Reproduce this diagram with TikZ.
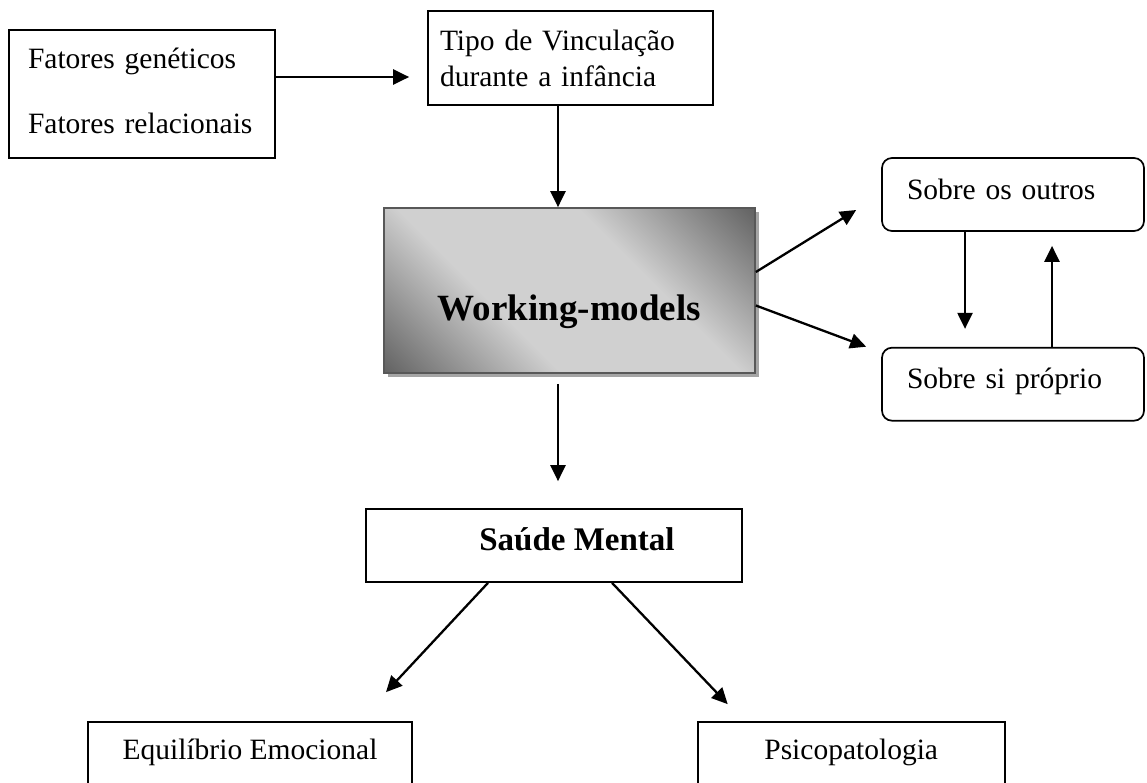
\documentclass[tikz,border=0pt]{standalone}
\usepackage{fontspec}
\setmainfont{Liberation Serif}
\usepackage{tikz}
\usetikzlibrary{positioning,arrows.meta,shadows}
\definecolor{model_dark}{RGB}{100,100,100}
\definecolor{model_light}{RGB}{208,208,208}
\definecolor{model_edge}{RGB}{88,88,88}
\definecolor{model_shadow}{RGB}{165,165,165}
\pgfdeclarehorizontalshading{model_shade}{100bp}{color(0bp)=(model_dark); color(15bp)=(model_dark); color(38bp)=(model_light); color(62bp)=(model_light); color(85bp)=(model_dark); color(100bp)=(model_dark)}
\tikzstyle{plain_box}=[rectangle, draw=black, line width=1.7pt, inner sep=0pt, font=\fontsize{29.5}{36}\selectfont]
\tikzstyle{round_box}=[plain_box, rounded corners=10pt, align=left, text width=212pt, inner xsep=25pt, minimum height=73pt, text height=18pt, text depth=9pt]
\tikzstyle{open_box}=[plain_box, text height=22pt, text depth=50pt, inner ysep=15pt]
\tikzstyle{model_box}=[rectangle, draw=model_edge, line width=1.7pt, shade, shading=model_shade, shading angle=45, minimum width=371pt, minimum height=165pt, inner sep=0pt, font=\bfseries\fontsize{37}{44}\selectfont, text height=66pt, text depth=7pt, drop shadow={shadow xshift=4pt, shadow yshift=-4pt, fill=model_shadow, opacity=1}]
\tikzstyle{flow_arrow}=[-{Triangle[length=16pt,width=15pt]}, draw=black, line width=2.3pt]

\begin{document}
\begin{tikzpicture}[x=1pt, y=-1pt]
        \useasboundingbox[fill=white] (0,0) rectangle (1147,782);
        \node [plain_box, align=left, text width=228pt, inner xsep=19pt, minimum height=128pt, font=\fontsize{29.5}{65}\selectfont, text height=20pt, text depth=72pt] (0) at (142, 94) {Fatores genéticos\\Fatores relacionais};
        \node [plain_box, align=left, text width=261pt, inner xsep=12pt, minimum height=94pt] (1) at (570.5, 58) {Tipo de Vinculação\\durante a infância};
        \node [model_box] (2) at (569.5, 290.5) {Working-models};
        \node [round_box] (3) at (1013, 194.5) {Sobre os outros};
        \node [round_box, below=115pt of 3] (4) {Sobre si próprio};
        \node [plain_box, minimum width=376pt, minimum height=73pt, font=\bfseries\fontsize{33}{40}\selectfont, text height=20pt, text depth=11pt] (5) at (554, 545.5) {\hspace*{46pt}Saúde Mental};
        \node [open_box, minimum width=324pt] (6) at (250, 773) {Equilíbrio Emocional};
        \node [open_box, minimum width=307pt, right=284pt of 6] (7) {Psicopatologia};
        \draw[style={flow_arrow}, shorten >=18pt] ([yshift=17pt]0.east) -- ([yshift=17pt]0.east -| 1.west);
        \draw[style={flow_arrow}] ([xshift=-12.5pt]1.south) -- ([xshift=-12.5pt]1.south |- 2.north);
        \draw[style={flow_arrow}] ([yshift=18.5pt]2.east) -- ([xshift=-25pt, yshift=-15.5pt]3.west);
        \draw[style={flow_arrow}] ([yshift=-15pt]2.east) -- ([xshift=-15pt, yshift=37.5pt]4.west);
        \draw[style={flow_arrow}, shorten >=18pt] ([xshift=-48pt]3.south) -- ([xshift=-48pt]3.south |- 4.north);
        \draw[style={flow_arrow}, shorten >=14pt] ([xshift=39pt]4.north) -- ([xshift=39pt]4.north |- 3.south);
        \draw[style={flow_arrow}, shorten <=10pt, shorten >=27pt] ([xshift=-11.5pt]2.south) -- ([xshift=-11.5pt]2.south |- 5.north);
        \draw[style={flow_arrow}] ([xshift=-66pt]5.south) -- ([xshift=136pt, yshift=29pt]6.north);
        \draw[style={flow_arrow}] ([xshift=58pt]5.south) -- ([xshift=-123.5pt, yshift=17pt]7.north);
\end{tikzpicture}
\end{document}
